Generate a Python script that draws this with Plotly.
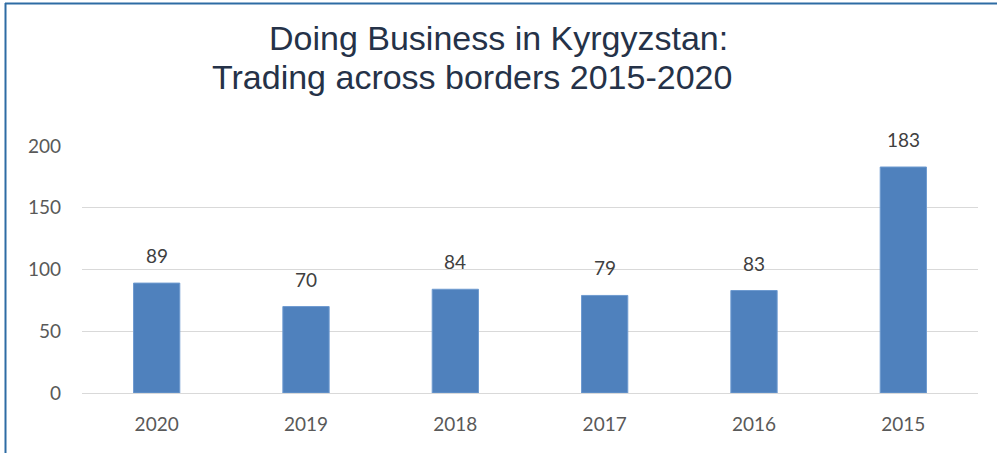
import plotly.graph_objects as go

years = ["2020", "2019", "2018", "2017", "2016", "2015"]
ranks = [89, 70, 84, 79, 83, 183]
y_ticks = [0, 50, 100, 150, 200]

W, H = 997, 453
ml, mr, mt, mb = 82, 19, 146, 60

FONT = "Lato, Open Sans, sans-serif"

fig = go.Figure(go.Bar(
    x=years, y=ranks,
    marker=dict(color="#4F81BD", line=dict(color="#6F9BD0", width=1)),
    width=0.31,
))

pw = W - ml - mr
ph = H - mt - mb
def px_x(x): return (x - ml) / pw
def px_y(y): return (H - mb - y) / ph

label_anns = [
    dict(x=i, y=v, text=str(v), xref="x", yref="y", showarrow=False,
         yanchor="bottom", xanchor="center", yshift=14,
         font=dict(family=FONT, size=19, color="#404040"))
    for i, v in enumerate(ranks)
]

title_font = dict(family="Liberation Sans, Arial, sans-serif", size=34, color="#253248")

fig.update_layout(
    width=W, height=H,
    margin=dict(l=ml, r=mr, t=mt, b=mb),
    paper_bgcolor="white", plot_bgcolor="white",
    showlegend=False,
    xaxis=dict(type="category", range=[-0.5, len(years) - 0.5], showgrid=False, showline=False, ticks="",
               ticklabelstandoff=18,
               tickfont=dict(family=FONT, size=19, color="#595959")),
    yaxis=dict(range=[0, 200], tickvals=y_ticks, showgrid=True, gridcolor="#D9D9D9", gridwidth=1,
               zeroline=True, zerolinecolor="#D9D9D9", zerolinewidth=1, showline=False, ticks="",
               ticklabelstandoff=20,
               tickfont=dict(family=FONT, size=19, color="#595959")),
    annotations=label_anns + [
        dict(text="Doing Business in Kyrgyzstan:", xref="paper", yref="paper",
             x=px_x(498), y=px_y(38), xanchor="center", yanchor="middle", showarrow=False,
             font=title_font),
        dict(text="Trading across borders 2015-2020", xref="paper", yref="paper",
             x=px_x(472), y=px_y(77), xanchor="center", yanchor="middle", showarrow=False,
             font=title_font),
    ],
    shapes=[
        dict(type="line", xref="paper", yref="paper", x0=px_x(5.5), x1=px_x(5.5), y0=px_y(3), y1=px_y(460),
             line=dict(color="#2E6CA4", width=2)),
        dict(type="line", xref="paper", yref="paper", x0=px_x(5), x1=px_x(1000), y0=px_y(3.5), y1=px_y(3.5),
             line=dict(color="#2E6CA4", width=2)),
    ],
)

fig.write_html("out.html", config={"displayModeBar": False},
               post_script="document.body.style.margin='0';document.body.style.overflow='hidden';")
